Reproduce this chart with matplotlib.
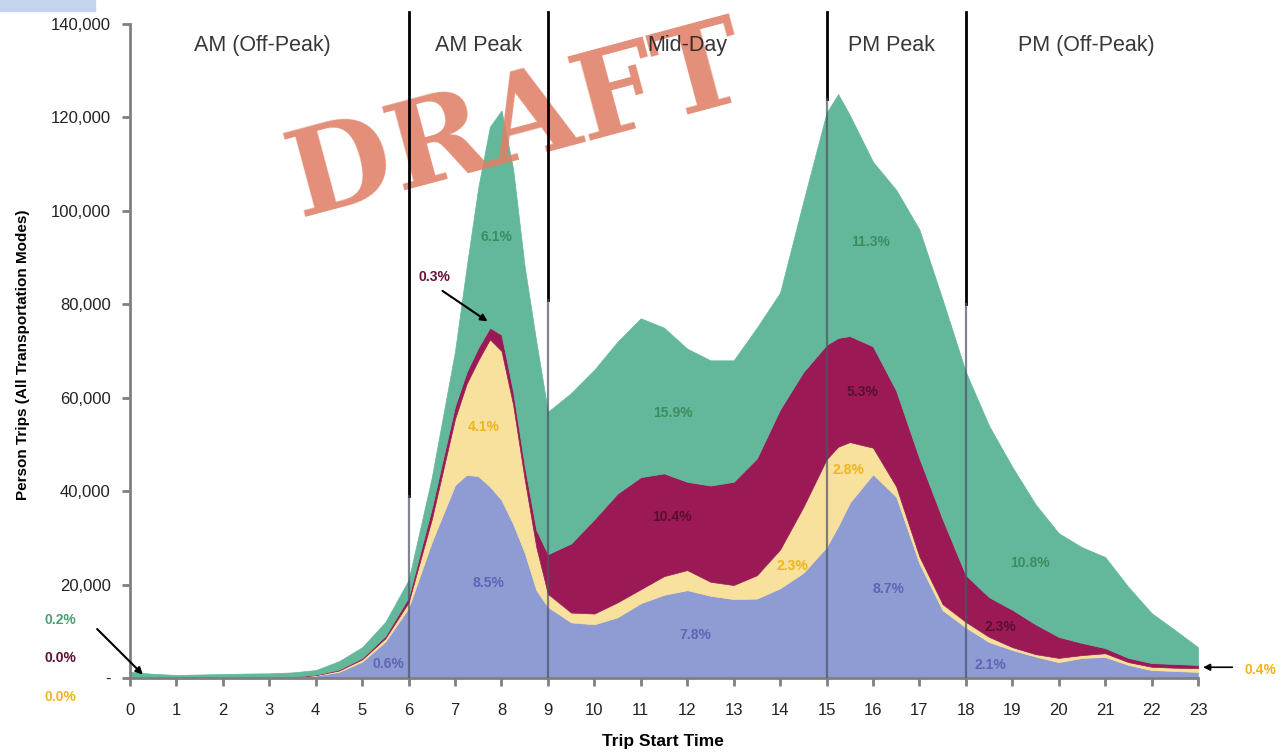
import numpy as np
import matplotlib.pyplot as plt
from matplotlib.patches import Rectangle

plt.rcParams['font.family'] = ['Liberation Sans', 'DejaVu Sans']

# trip start time (hours) and person trips per mode
hours = [0, 0.5, 1, 1.5, 2, 2.5, 3, 3.5, 4, 4.5, 5, 5.5, 6, 6.5, 7, 7.25, 7.5, 7.75,
         8, 8.25, 8.5, 8.75, 9, 9.5, 10, 10.5, 11, 11.5, 12, 12.5, 13, 13.5, 14, 14.5,
         15, 15.25, 15.5, 16, 16.5, 17, 17.5, 18, 18.5, 19, 19.5, 20, 20.5, 21, 21.5,
         22, 22.5, 23]
blue_trips = [100, 100, 100, 100, 100, 100, 100, 150, 500, 1300, 3500, 7800, 15000,
              29100, 41300, 43500, 43200, 41000, 38100, 33000, 26800, 18800, 15200,
              11900, 11500, 13000, 16000, 17800, 18800, 17600, 16900, 17000, 19200,
              22500, 28000, 32500, 37500, 43600, 38800, 24500, 14500, 10800, 7700,
              6000, 4600, 3400, 4300, 4500, 2800, 1700, 1500, 1300]
yellow_trips = [20, 20, 20, 20, 20, 20, 20, 30, 100, 300, 500, 700, 1200, 4900, 14200,
                19500, 24800, 31500, 31900, 25500, 15700, 9200, 2800, 2100, 2300, 3200,
                3000, 4000, 4300, 3000, 3000, 5000, 8300, 14100, 18800, 17000, 13000,
                5700, 2200, 1500, 1300, 1200, 1100, 600, 500, 900, 600, 800, 600, 700,
                700, 800]
maroon_trips = [30, 30, 30, 30, 30, 30, 30, 70, 100, 200, 300, 500, 1100, 2400, 2700,
                2500, 2700, 2500, 3500, 2900, 2900, 3700, 8500, 14800, 20200, 23300,
                24000, 22000, 18900, 20600, 22100, 25000, 30000, 28900, 24500, 23300,
                22700, 21700, 20500, 21000, 18200, 10000, 8500, 8000, 6400, 4500, 2600,
                1100, 900, 800, 800, 700]
green_trips = [1150, 750, 500, 600, 700, 800, 850, 950, 1000, 1800, 2300, 3000, 3700,
               6600, 11800, 22500, 34300, 43000, 48000, 47600, 42600, 40300, 30500,
               32200, 32000, 32500, 34000, 31200, 28500, 26800, 26000, 28000, 25000,
               36500, 49700, 52200, 47300, 39500, 43000, 49000, 47000, 43500, 36700,
               30600, 25700, 22200, 20500, 19500, 15200, 10700, 7300, 3800]

periods = ['AM (Off-Peak)', 'AM Peak', 'Mid-Day', 'PM Peak', 'PM (Off-Peak)']
period_mid = [2.85, 7.5, 12.0, 16.4, 20.6]
period_bounds = [6, 9, 15, 18]
black_from = [39000, 81000, 124000, 80000]

# share labels: text, colour, position (hour, trips)
shares = [
    ('0.6%', '#6064b4', 5.56, 3000),
    ('8.5%', '#6064b4', 7.71, 20300),
    ('4.1%', '#f0b41c', 7.62, 53700),
    ('6.1%', '#3d8d60', 7.9, 94400),
    ('15.9%', '#3d8d60', 11.7, 56700),
    ('10.4%', '#5a0f32', 11.67, 34500),
    ('7.8%', '#6064b4', 12.17, 9200),
    ('2.3%', '#f0b41c', 14.26, 24000),
    ('2.8%', '#f0b41c', 15.46, 44500),
    ('5.3%', '#5a0f32', 15.77, 61200),
    ('11.3%', '#3d8d60', 15.94, 93300),
    ('8.7%', '#6064b4', 16.33, 19000),
    ('10.8%', '#3d8d60', 19.38, 24600),
    ('2.3%', '#5a0f32', 18.74, 10900),
    ('2.1%', '#6064b4', 18.52, 2800),
]

colors = ['#8f9bd3', '#f7e19d', '#9b1a56', '#63b89b']

fig = plt.figure(figsize=(12.85, 7.55), dpi=100)
fig.patches.append(Rectangle((0, 1 - 11 / 755), 95 / 1285, 11 / 755,
                             transform=fig.transFigure, color='#c3d4ee', zorder=0))
ax = fig.add_axes([130 / 1285, 77 / 755, 1068 / 1285, 654 / 755])

ax.stackplot(hours, blue_trips, yellow_trips, maroon_trips, green_trips,
             colors=colors, edgecolor='face', linewidth=0.5, zorder=2)

for h, brk in zip(period_bounds, black_from):
    ax.plot([h, h], [brk, 142500], color='black', lw=2, clip_on=False, zorder=4)
    ax.plot([h, h], [0, brk], color='#4a5266', lw=1.6, alpha=0.7, zorder=4)

for name, xm in zip(periods, period_mid):
    ax.text(xm, 135500, name, ha='center', va='center', fontsize=15.5, color='#222222',
            alpha=0.9, zorder=5)

for txt, c, xh, yv in shares:
    ax.text(xh, yv, txt, ha='center', va='center', fontsize=10, fontweight='bold',
            color=c, zorder=5)

# labels outside the plot with arrows
ax.text(-1.5, 12400, '0.2%', ha='center', va='center', fontsize=10, fontweight='bold',
        color='#4aa070', clip_on=False)
ax.text(-1.5, 4300, '0.0%', ha='center', va='center', fontsize=10, fontweight='bold',
        color='#5a0f32', clip_on=False)
ax.text(-1.5, -4000, '0.0%', ha='center', va='center', fontsize=10, fontweight='bold',
        color='#f0b41c', clip_on=False)
ax.annotate('', xy=(0.32, 300), xytext=(-0.75, 10900),
            arrowprops=dict(arrowstyle='-|>', color='black', lw=1.5), annotation_clip=False)
ax.text(6.55, 85800, '0.3%', ha='center', va='center', fontsize=10, fontweight='bold',
        color='#6b1036', zorder=5)
ax.annotate('', xy=(7.75, 76000), xytext=(6.68, 83200),
            arrowprops=dict(arrowstyle='-|>', color='black', lw=1.5), zorder=5)
ax.text(24.35, 1700, '0.4%', ha='center', va='center', fontsize=10, fontweight='bold',
        color='#f0b41c', clip_on=False)
ax.annotate('', xy=(23.05, 2300), xytext=(23.8, 2300),
            arrowprops=dict(arrowstyle='-|>', color='black', lw=1.2), annotation_clip=False)

ax.text(8.35, 118500, 'DRAFT', ha='center', va='center', rotation=15,
        rotation_mode='anchor', fontsize=86, fontweight='bold', family='DejaVu Serif',
        color='#df7f66', alpha=0.88, zorder=3.5)

ax.set_xlim(0, 23)
ax.set_ylim(0, 140000)
ax.set_xticks(range(0, 24))
ax.set_yticks(np.arange(0, 140001, 20000))
ax.set_yticklabels(['-'] + [f'{v:,}' for v in range(20000, 140001, 20000)])
ax.tick_params(axis='both', labelsize=12, colors='#808080', labelcolor='#222222',
               direction='out', length=6, width=2)
ax.tick_params(axis='x', pad=12)
ax.tick_params(axis='y', pad=8)
for s in ['top', 'right']:
    ax.spines[s].set_visible(False)
for s in ['left', 'bottom']:
    ax.spines[s].set_color('#808080')
    ax.spines[s].set_linewidth(2)

ax.set_xlabel('Trip Start Time', fontsize=12.5, fontweight='bold')
ax.xaxis.set_label_coords(0.499, -0.086)
ax.set_ylabel('Person Trips (All Transportation Modes)', fontsize=11, fontweight='bold')
ax.yaxis.set_label_coords(-0.094, 0.494)

fig.savefig('out.png', dpi=100)
